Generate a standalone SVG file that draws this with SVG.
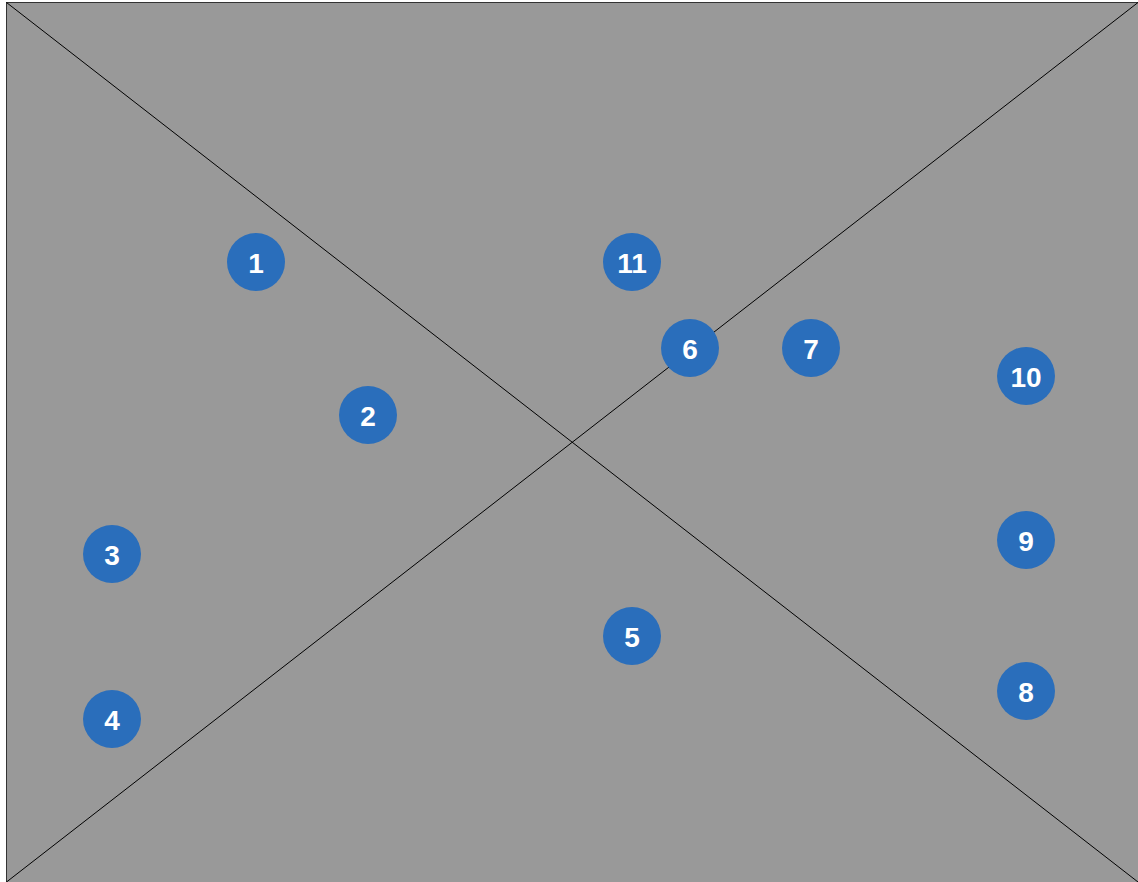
<svg xmlns="http://www.w3.org/2000/svg" width="1138" height="882" viewBox="0 0 1138 882">
<style>
.bg{fill:#999999;stroke:#333333;stroke-width:1}
.ln{stroke:#000000;stroke-width:1;fill:none}
.c{fill:#2a6ebb}
.t{fill:#ffffff;font-family:"Liberation Sans",Arial,sans-serif;font-weight:bold;font-size:28px;text-anchor:middle;dominant-baseline:central}
</style>
<rect class="bg" x="6.5" y="2.5" width="1132" height="880"/>
<g id="connectors">
<line class="ln" x1="6.5" y1="2.5" x2="1138" y2="882"/>
<line class="ln" x1="6.5" y1="882" x2="1138" y2="2.5"/>
</g>
<g id="n1"><circle class="c" cx="256" cy="262" r="29"/><text class="t" x="256" y="263">1</text></g>
<g id="n2"><circle class="c" cx="368" cy="415" r="29"/><text class="t" x="368" y="416">2</text></g>
<g id="n3"><circle class="c" cx="112" cy="554" r="29"/><text class="t" x="112" y="555">3</text></g>
<g id="n4"><circle class="c" cx="112" cy="719" r="29"/><text class="t" x="112" y="720">4</text></g>
<g id="n5"><circle class="c" cx="632" cy="636" r="29"/><text class="t" x="632" y="637">5</text></g>
<g id="n6"><circle class="c" cx="690" cy="348" r="29"/><text class="t" x="690" y="349">6</text></g>
<g id="n7"><circle class="c" cx="811" cy="348" r="29"/><text class="t" x="811" y="349">7</text></g>
<g id="n8"><circle class="c" cx="1026" cy="691" r="29"/><text class="t" x="1026" y="692">8</text></g>
<g id="n9"><circle class="c" cx="1026" cy="540" r="29"/><text class="t" x="1026" y="541">9</text></g>
<g id="n10"><circle class="c" cx="1026" cy="376" r="29"/><text class="t" x="1026" y="377">10</text></g>
<g id="n11"><circle class="c" cx="632" cy="262" r="29"/><text class="t" x="632" y="263">11</text></g>
</svg>
